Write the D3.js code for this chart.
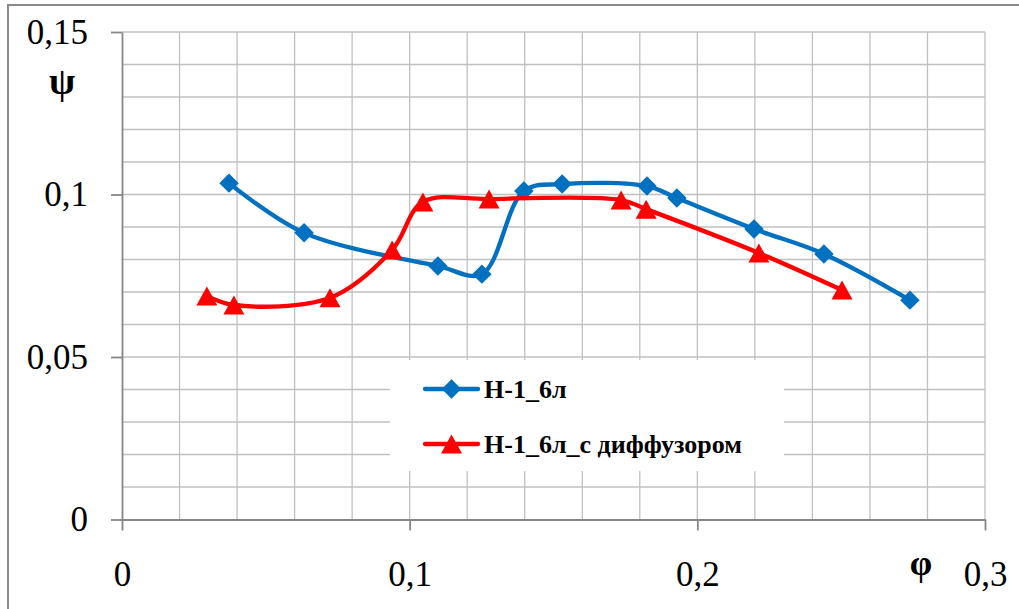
<!DOCTYPE html>
<html>
<head>
<meta charset="utf-8">
<script src="https://cdn.jsdelivr.net/npm/d3@7"></script>
<style>
  body { margin: 0; background: #fff; }
  svg { display: block; }
</style>
</head>
<body>
<div id="chart"></div>
<script>
// series data (phi, psi)
var blueX = [0.0372, 0.0633, 0.1098, 0.1251, 0.1397, 0.1530, 0.1825, 0.1929, 0.2197, 0.2440, 0.2739];
var blueY = [0.1035, 0.0882, 0.0780, 0.0755, 0.1011, 0.1032, 0.1026, 0.0989, 0.0894, 0.0817, 0.0675];
var redX  = [0.0295, 0.0389, 0.0723, 0.0939, 0.1046, 0.1276, 0.1735, 0.1822, 0.2214, 0.2503];
var redY  = [0.0688, 0.0660, 0.0682, 0.0829, 0.0977, 0.0986, 0.0983, 0.0955, 0.0820, 0.0706];
var seriesNames = ['Н-1_6л', 'Н-1_6л_с диффузором'];
var xTicks = [0, 0.1, 0.2, 0.3];
var yTicks = [0, 0.05, 0.1, 0.15];

var width = 1019, height = 609;
var svg = d3.select('#chart').append('svg')
	.attr('width', width)
	.attr('height', height);

// outer frame
svg.append('rect')
	.attr('x', 8).attr('y', 5)
	.attr('width', 1040).attr('height', 640)
	.attr('fill', '#fff')
	.attr('stroke', '#898989')
	.attr('stroke-width', 2);

var xScale = d3.scaleLinear().domain([0, 0.3]).range([122, 985]);
var yScale = d3.scaleLinear().domain([0, 0.15]).range([519.5, 32]);

var comma = function(d) { return String(d).replace('.', ','); };

// grid
var grid = svg.append('g').attr('class', 'grid');
grid.selectAll('.vg').data(d3.range(1, 16).map(function(i) { return i * 0.02; }))
	.enter().append('line')
	.attr('x1', function(d) { return xScale(d); })
	.attr('x2', function(d) { return xScale(d); })
	.attr('y1', yScale(0)).attr('y2', yScale(0.15))
	.attr('stroke', '#c0c0c0').attr('stroke-width', 1.3);
grid.selectAll('.hg').data(d3.range(1, 16).map(function(i) { return i * 0.01; }))
	.enter().append('line')
	.attr('x1', xScale(0)).attr('x2', xScale(0.3))
	.attr('y1', function(d) { return yScale(d); })
	.attr('y2', function(d) { return yScale(d); })
	.attr('stroke', '#c0c0c0').attr('stroke-width', 1.3);

// axes
var yAxis = d3.axisLeft(yScale).tickValues(yTicks).tickFormat(comma)
	.tickSizeInner(11).tickSizeOuter(0).tickPadding(23);
var xAxis = d3.axisBottom(xScale).tickValues(xTicks).tickFormat(comma)
	.tickSizeInner(11).tickSizeOuter(0).tickPadding(31);

var gy = svg.append('g').attr('transform', 'translate(' + xScale(0) + ',0)').call(yAxis);
var gx = svg.append('g').attr('transform', 'translate(0,' + yScale(0) + ')').call(xAxis);
[gx, gy].forEach(function(g) {
	g.select('.domain').attr('stroke', '#868686').attr('stroke-width', 1.8);
	g.selectAll('.tick line').attr('stroke', '#868686').attr('stroke-width', 1.8);
	g.selectAll('.tick text')
		.attr('fill', '#000')
		.style('font-family', '"Liberation Serif", "Times New Roman", serif')
		.style('font-size', '35px');
});

// axis symbols
svg.append('text').attr('x', 62).attr('y', 94).attr('text-anchor', 'middle')
	.style('font-family', '"Liberation Serif", serif').style('font-weight', 'bold')
	.style('font-size', '38px').text('ψ');
svg.append('text').attr('x', 921).attr('y', 575).attr('text-anchor', 'middle')
	.style('font-family', '"Liberation Serif", serif').style('font-weight', 'bold')
	.style('font-size', '36px').text('φ');

// marker shapes
var diamond = d3.symbol().type(d3.symbolSquare).size(190);
var triangle = {
	draw: function(ctx, size) {
		var w = 10.5, h = 9.5;
		ctx.moveTo(0, -h);
		ctx.lineTo(w, h);
		ctx.lineTo(-w, h);
		ctx.closePath();
	}
};
var tri = d3.symbol().type(triangle).size(1);

var line = d3.line()
	.x(function(d) { return xScale(d[0]); })
	.y(function(d) { return yScale(d[1]); })
	.curve(d3.curveCatmullRom.alpha(0.5));

var series = [
	{ name: seriesNames[0], color: '#0070C0', pts: d3.zip(blueX, blueY), sym: diamond, rot: 45 },
	{ name: seriesNames[1], color: '#FF0000', pts: d3.zip(redX, redY), sym: tri, rot: 0 }
];

series.forEach(function(s) {
	var g = svg.append('g');
	g.append('path').datum(s.pts)
		.attr('d', line)
		.attr('fill', 'none')
		.attr('stroke', s.color)
		.attr('stroke-width', 4.3)
		.attr('stroke-linejoin', 'round');
	g.selectAll('path.m').data(s.pts).enter().append('path')
		.attr('class', 'm')
		.attr('d', s.sym)
		.attr('fill', s.color)
		.attr('transform', function(d) {
			return 'translate(' + xScale(d[0]) + ',' + yScale(d[1]) + ') rotate(' + s.rot + ')';
		});
});

// legend
var legend = svg.append('g');
legend.append('rect')
	.attr('x', 390).attr('y', 360)
	.attr('width', 394).attr('height', 111)
	.attr('fill', '#fff');
series.forEach(function(s, i) {
	var ly = 389 + i * 55;
	legend.append('line')
		.attr('x1', 425).attr('x2', 478)
		.attr('y1', ly).attr('y2', ly)
		.attr('stroke', s.color).attr('stroke-width', 4.3)
		.attr('stroke-linecap', 'round');
	legend.append('path')
		.attr('d', s.sym)
		.attr('fill', s.color)
		.attr('transform', 'translate(451.5,' + ly + ') rotate(' + s.rot + ')');
	legend.append('text')
		.attr('x', 484).attr('y', ly + 9)
		.style('font-family', '"Liberation Serif", "Times New Roman", serif')
		.style('font-weight', 'bold')
		.style('font-size', '26px')
		.text(s.name);
});
</script>
</body>
</html>
